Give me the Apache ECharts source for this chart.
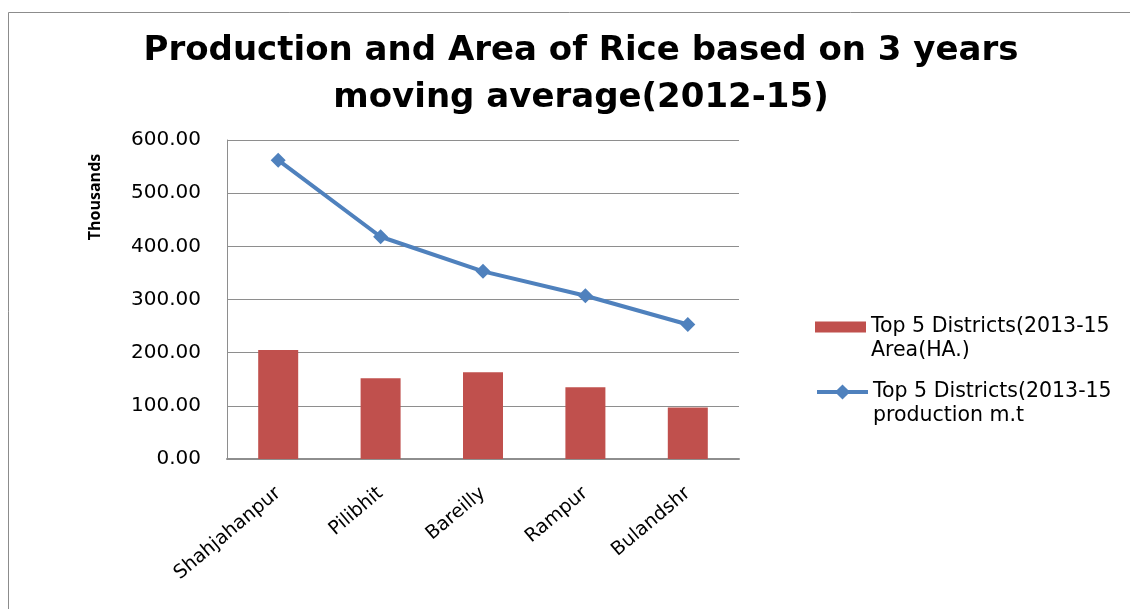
<!DOCTYPE html>
<html>
<head>
<meta charset="utf-8">
<script src="https://cdn.jsdelivr.net/npm/echarts@6/dist/echarts.min.js"></script>
<style>
  html, body { margin: 0; padding: 0; background: #ffffff; }
  #chart { width: 1130px; height: 609px; }
</style>
</head>
<body>
<div id="chart"></div>
<script>
// Top 5 rice districts, 3-year moving average (values in thousands)
const districts = ['Shahjahanpur', 'Pilibhit', 'Bareilly', 'Rampur', 'Bulandshr'];
const areaHa = [205, 152, 163, 135, 97];
const productionMt = [562, 418, 353, 307, 253];
const yTicks = [0, 100, 200, 300, 400, 500, 600];

const areaName = 'Top 5 Districts(2013-15\nArea(HA.)';
const prodName = 'Top 5 Districts(2013-15\nproduction m.t';

const font = '"DejaVu Sans", "Open Sans", sans-serif';
const chart = echarts.init(document.getElementById('chart'), null, { renderer: 'canvas' });

// legend text gets a blank first line so the key sits beside the first text line
const legendText = {
  fontFamily: font,
  fontSize: 20.5,
  lineHeight: 24,
  color: '#000000'
};

chart.setOption({
  animation: false,
  backgroundColor: '#ffffff',
  title: {
    text: 'Production and Area of Rice based on 3 years\nmoving average(2012-15)',
    left: 576,
    top: 23,
    textAlign: 'center',
    textStyle: {
      fontFamily: font,
      fontWeight: 'bold',
      fontSize: 34,
      lineHeight: 47,
      color: '#000000'
    }
  },
  graphic: [
    {
      type: 'rect',
      shape: { x: 8.5, y: 12.5, width: 1140, height: 620 },
      style: { fill: 'none', stroke: '#8c8c8c', lineWidth: 1 },
      silent: true
    },
    {
      type: 'text',
      x: 95,
      y: 197,
      rotation: Math.PI / 2,
      style: {
        text: 'Thousands',
        font: 'bold 16px "Open Sans", sans-serif',
        fill: '#000000',
        align: 'center',
        verticalAlign: 'middle'
      }
    }
  ],
  legend: [
    {
      data: [{ name: areaName, icon: 'rect' }],
      orient: 'vertical',
      left: 815,
      top: 291,
      padding: 0,
      itemWidth: 51,
      itemHeight: 11,
      itemGap: 0,
      formatter: function (name) { return ' \n' + name; },
      textStyle: legendText
    },
    {
      data: [prodName],
      orient: 'vertical',
      left: 815,
      top: 356,
      padding: 0,
      itemWidth: 51,
      itemHeight: 19,
      itemGap: 0,
      lineStyle: { width: 4 },
      formatter: function (name) { return ' \n' + name; },
      textStyle: legendText
    }
  ],
  grid: { left: 227, right: 391, top: 140, bottom: 150, containLabel: false },
  xAxis: {
    type: 'category',
    data: districts,
    axisLine: { show: true, lineStyle: { color: '#8e8e8e', width: 2 } },
    axisTick: { show: false },
    axisLabel: {
      rotate: 40,
      margin: 32,
      fontFamily: font,
      fontSize: 19,
      color: '#000000'
    }
  },
  yAxis: {
    type: 'value',
    min: 0,
    max: 600,
    interval: 100,
    axisLine: { show: true, lineStyle: { color: '#8e8e8e', width: 1 } },
    axisTick: { show: false },
    splitLine: { show: true, lineStyle: { color: '#8e8e8e', width: 1 } },
    axisLabel: {
      margin: 26,
      fontFamily: font,
      fontSize: 20,
      color: '#000000',
      formatter: function (v) {
        return yTicks.indexOf(v) >= 0 ? v.toFixed(2) : '';
      }
    }
  },
  series: [
    {
      name: areaName,
      type: 'bar',
      data: areaHa,
      barWidth: 40,
      itemStyle: { color: '#C0504D' }
    },
    {
      name: prodName,
      type: 'line',
      data: productionMt,
      symbol: 'diamond',
      symbolSize: 15,
      lineStyle: { color: '#4F81BD', width: 4 },
      itemStyle: { color: '#4F81BD' }
    }
  ]
});
</script>
</body>
</html>
